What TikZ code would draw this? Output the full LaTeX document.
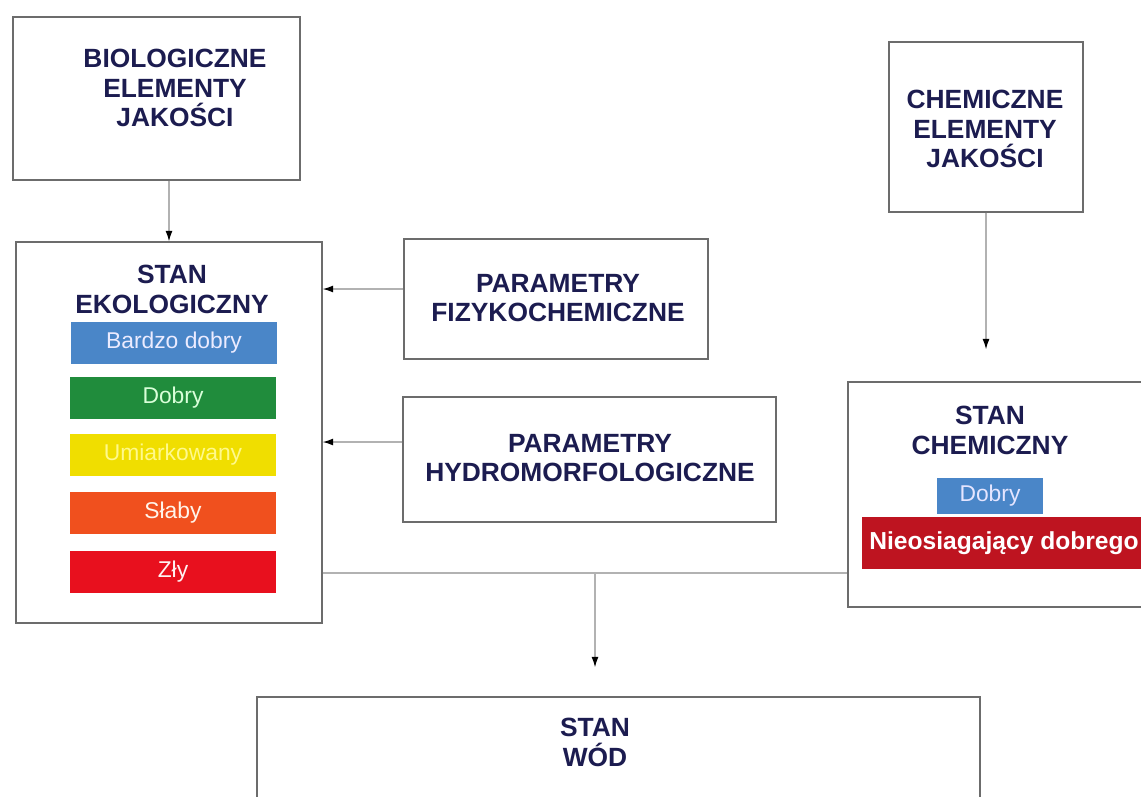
\documentclass[tikz,border=0pt]{standalone}
\usepackage{fontspec}
\setmainfont{Liberation Sans}
\usetikzlibrary{arrows.meta}
\definecolor{navy}{HTML}{1C1C50}
\definecolor{bdobry}{HTML}{4A86C8}
\definecolor{dobry}{HTML}{208C3C}
\definecolor{umiark}{HTML}{F0DE00}
\definecolor{slaby}{HTML}{F0501E}
\definecolor{zly}{HTML}{E8101E}
\definecolor{nied}{HTML}{BE1420}
\begin{document}
\begin{tikzpicture}[x=0.02cm,y=-0.02cm,
    box/.style={draw=gray!85!black, line width=0.8pt, fill=white},
    title/.style={text=navy, font=\fontsize{15}{17}\selectfont\bfseries, align=center},
    bar/.style={minimum width=4.12cm, minimum height=0.84cm, inner sep=0pt, font=\fontsize{13}{15}\selectfont},
    line/.style={draw=gray!60, line width=0.7pt},
    arr/.style={line, -{Latex[length=6pt,width=4pt,color=black]}}
  ]
    \clip (0,0) rectangle (1141,796);
    \fill[white] (0,0) rectangle (1141,796);

    % Boxes
    \node[box, minimum width=5.74cm, minimum height=3.26cm] (bio) at (156.5,98.5) {};
    \node[box, minimum width=6.12cm, minimum height=7.62cm] (eko) at (169,432.5) {};
    \node[box, minimum width=6.08cm, minimum height=2.4cm] (fizyko) at (556,299) {};
    \node[box, minimum width=7.46cm, minimum height=2.5cm] (hydro) at (589.5,459.5) {};
    \node[box, minimum width=3.88cm, minimum height=3.4cm] (chemel) at (986,127) {};
    \node[box, minimum width=6.24cm, minimum height=4.5cm] (chem) at (1004,494.5) {};
    \node[box, minimum width=14.46cm, minimum height=2.46cm] (wody) at (618.5,758.5) {};

    % Titles
    \node[title] (biot) at (175,88) {BIOLOGICZNE\\ELEMENTY\\JAKOŚCI};
    \node[title] (ekot) at (172,289) {STAN\\EKOLOGICZNY};
    \node[title] (fizykot) at (558,298) {PARAMETRY\\FIZYKOCHEMICZNE};
    \node[title] (hydrot) at (590,458) {PARAMETRY\\HYDROMORFOLOGICZNE};
    \node[title] (chemelt) at (985,129) {CHEMICZNE\\ELEMENTY\\JAKOŚCI};
    \node[title] (chemt) at (990,430) {STAN\\CHEMICZNY};
    \node[title] (wodyt) at (595,742) {STAN\\WÓD};

    % Classes
    \node[bar, fill=bdobry, text=blue!8] (bardzo) at (174,342.5) {Bardzo dobry};
    \node[bar, fill=dobry, text=green!15] (dobry) at (173,398) {Dobry};
    \node[bar, fill=umiark, text=yellow!45] (umiark) at (173,455) {Umiarkowany};
    \node[bar, fill=slaby, text=orange!8] (slaby) at (173,513) {Słaby};
    \node[bar, fill=zly, text=red!5] (zly) at (173,572) {Zły};
    \node[bar, fill=bdobry, text=blue!10, minimum width=2.12cm, minimum height=0.72cm] (cdobry) at (990,496) {Dobry};
    \node[fill=nied, text=white, anchor=west, minimum height=1.04cm, inner xsep=4pt,
        font=\fontsize{14}{16}\selectfont\bfseries] (cnie) at (862,543) {Nieosiagający dobrego};

    % Arrows
    \draw[arr] (bio.south -| eko.north) -- (eko.north);
    \draw[arr] ([yshift=0.2cm]fizyko.west) -- ([yshift=0.2cm]fizyko.west -| eko.east);
    \draw[arr] ([yshift=0.35cm]hydro.west) -- ([yshift=0.35cm]hydro.west -| eko.east);
    \draw[arr, shorten >=0.64cm] (chemel.south) -- (chemel.south |- chem.north);

    % Joining line
    \coordinate (join) at (595,573);
    \draw[line] (eko.east |- join) -- (chem.west |- join);
    \draw[arr, shorten >=0.58cm] (join) -- (join |- wody.north);

\end{tikzpicture}
\end{document}
